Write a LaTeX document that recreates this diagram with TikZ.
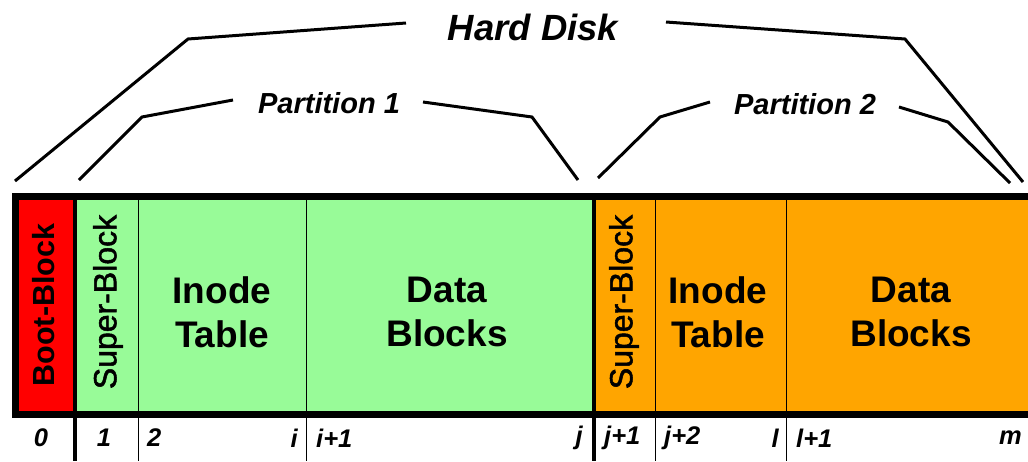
\documentclass[tikz,border=0pt]{standalone}
\usepackage{fontspec}
\setmainfont{Liberation Sans}
\font\sbfont="Liberation Sans:embolden=1.6" at 32pt
\definecolor{bootred}{RGB}{255,0,0}
\definecolor{partgreen}{RGB}{152,251,152}
\definecolor{partorange}{RGB}{255,165,0}
\tikzset{
  brace/.style={line width=3pt, line join=miter},
  bigdiv/.style={line width=4pt},
  smalldiv/.style={line width=1.4pt},
  celltext/.style={font=\fontsize{37}{44}\selectfont\bfseries, align=center, inner sep=0pt},
  vtext/.style={rotate=90, inner sep=0pt},
  idx/.style={font=\fontsize{25.5}{25.5}\selectfont\bfseries\itshape, inner sep=0pt},
  title/.style={font=\bfseries\itshape, inner sep=0pt}
}
\begin{document}
\begin{tikzpicture}[x=1pt,y=-1pt]
\useasboundingbox (0,0) rectangle (1028,461);
\begin{scope}
\clip (0,0) rectangle (1028,461);
% fills
\fill[bootred] (15,196) rectangle (75,414);
\fill[partgreen] (75,196) rectangle (594,414);
\fill[partorange] (594,196) rectangle (1040,414);
% dividers (extending below the bar)
\draw[bigdiv] (75,196) -- (75,461);
\draw[bigdiv] (594,196) -- (594,461);
\draw[smalldiv] (138.5,196) -- (138.5,461);
\draw[smalldiv] (306.5,196) -- (306.5,461);
\draw[smalldiv] (655.5,196) -- (655.5,461);
\draw[smalldiv] (786.5,196) -- (786.5,461);
% outer border
\draw[line width=7pt] (15.5,196.5) rectangle (1040,414);
\end{scope}

% cell labels
\node[vtext, font=\fontsize{30.5}{30.5}\selectfont\bfseries] (boot) at (44,305) {Boot-Block};
\node[vtext, font=\sbfont] (sb1) at (108,302) {Super-Block};
\node[celltext] (it1) at (222,312) {Inode\\Table};
\node[celltext] (db1) at (447,312) {Data\\Blocks};
\node[vtext, font=\sbfont] (sb2) at (624,302) {Super-Block};
\node[celltext] (it2) at (718,312) {Inode\\Table};
\node[celltext] (db2) at (911,312) {Data\\Blocks};

% index labels
\node[idx] (i0) at (41,438) {0};
\node[idx] (i1) at (104,438) {1};
\node[idx, anchor=west] (i2) at (147,438) {2};
\node[idx, anchor=east] (ii) at (298,438) {i};
\node[idx, anchor=west] (ii1) at (316,438) {i+1};
\node[idx, anchor=east] (ij) at (583,438) {j};
\node[idx, anchor=west] (ij1) at (604,438) {j+1};
\node[idx, anchor=west] (ij2) at (664,438) {j+2};
\node[idx, anchor=east] (il) at (779,438) {l};
\node[idx, anchor=west] (il1) at (796,438) {l+1};
\node[idx, anchor=west] (im) at (999,438) {m};

% titles
\node[title, font=\fontsize{36.5}{36.5}\selectfont\bfseries\itshape] (hd) at (533,27) {Hard Disk};
\node[title, font=\fontsize{29}{29}\selectfont\bfseries\itshape] (p1) at (329,103) {Partition 1};
\node[title, font=\fontsize{29}{29}\selectfont\bfseries\itshape] (p2) at (805,104) {Partition 2};

% brace coordinates
\coordinate (hdl0) at (15,181);
\coordinate (hdl1) at (188,39);
\coordinate (hdl2) at (406,23);
\coordinate (hdr0) at (666,22);
\coordinate (hdr1) at (905,39);
\coordinate (hdr2) at (1023,182);
\coordinate (p1l0) at (79,180);
\coordinate (p1l1) at (142,117);
\coordinate (p1l2) at (233,100);
\coordinate (p1r0) at (423,102);
\coordinate (p1r1) at (532,117);
\coordinate (p1r2) at (578,180);
\coordinate (p2l0) at (598,178);
\coordinate (p2l1) at (660,117);
\coordinate (p2l2) at (710,102);
\coordinate (p2r0) at (899,107);
\coordinate (p2r1) at (948,122);
\coordinate (p2r2) at (1010,183);

\draw[brace] (hdl0) -- (hdl1) -- (hdl2);
\draw[brace] (hdr0) -- (hdr1) -- (hdr2);
\draw[brace] (p1l0) -- (p1l1) -- (p1l2);
\draw[brace] (p1r0) -- (p1r1) -- (p1r2);
\draw[brace] (p2l0) -- (p2l1) -- (p2l2);
\draw[brace] (p2r0) -- (p2r1) -- (p2r2);
\end{tikzpicture}
\end{document}
